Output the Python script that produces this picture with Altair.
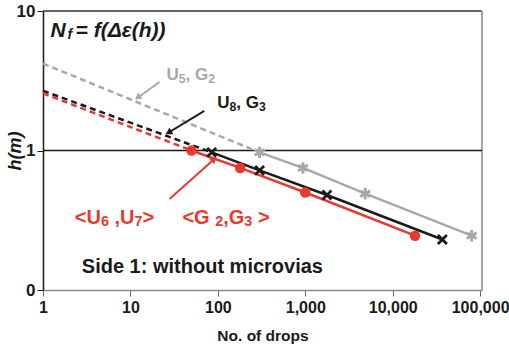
import altair as alt
import pandas as pd

FONT = "Liberation Sans, Arial, sans-serif"
RED = "#e8392f"
BLACK = "#1a1a1a"
GRAY = "#a7a8aa"

# Measured series (No. of drops vs h(m))
red_x = [50, 180, 1000, 18000]
red_y = [1.0, 0.75, 0.5, 0.245]
black_x = [85, 300, 1770, 37000]
black_y = [0.97, 0.72, 0.48, 0.23]
gray_x = [300, 940, 4850, 80000]
gray_y = [0.97, 0.75, 0.49, 0.245]
# dashed extrapolation start values at 1 drop
red_start = 2.57
black_start = 2.68
gray_start = 4.2

x_ticks = [1, 10, 100, 1000, 10000, 100000]
y_ticks = [0.1, 1, 10]

W, H = 439, 279

def sdf(xs, ys):
    return pd.DataFrame({"x": xs, "y": ys})

xs = alt.Scale(type="log", domain=[1, 105000])
ys = alt.Scale(type="log", domain=[0.1, 10])

X = alt.X("x:Q", scale=xs, axis=alt.Axis(values=x_ticks, format=",d", title="No. of drops",
          labelFont=FONT, labelFontSize=16, labelFontWeight="bold", labelColor=BLACK,
          titleFont=FONT, titleFontSize=15.5, titleFontWeight="bold", titleColor=BLACK,
          titlePadding=13, tickColor="#666", domainColor="#888", domainWidth=1.5,
          grid=False, labelPadding=3, labelFlush=False, tickSize=6))
Y = alt.Y("y:Q", scale=ys, axis=alt.Axis(values=y_ticks, title="h(m)",
          labelExpr="datum.value < 0.5 ? '0' : format(datum.value, 'd')",
          labelFont=FONT, labelFontSize=17, labelFontWeight="bold", labelColor=BLACK,
          titleFont=FONT, titleFontSize=18, titleFontWeight="bold", titleFontStyle="italic",
          titleColor=BLACK, titleX=-28, titleY=H / 2, titleBaseline="middle",
          tickColor=BLACK, domainColor=BLACK, tickSize=6, labelPadding=2,
          domainWidth=1.5, grid=False, labelFlush=False))

layers = []
# frame: top (dark) and right (gray)
layers.append(alt.Chart(pd.DataFrame({"a": [0]})).mark_rule(color="#333", strokeWidth=1.5).encode(
    x=alt.value(0), x2=alt.value(W), y=alt.value(0)))
layers.append(alt.Chart(pd.DataFrame({"a": [0]})).mark_rule(color="#888", strokeWidth=1.5).encode(
    x=alt.value(W), y=alt.value(0), y2=alt.value(H)))
# reference line at h=1
layers.append(alt.Chart(pd.DataFrame({"y": [1]})).mark_rule(color=BLACK, strokeWidth=1.5).encode(y=alt.Y("y:Q", scale=ys)))

for xsv, ysv, start, col in [(gray_x, gray_y, gray_start, GRAY), (black_x, black_y, black_start, BLACK), (red_x, red_y, red_start, RED)]:
    d = sdf([1, xsv[0]], [start, ysv[0]])
    layers.append(alt.Chart(d).mark_line(color=col, strokeWidth=2.5, strokeDash=[6, 4]).encode(x=X, y=Y))
    layers.append(alt.Chart(sdf(xsv, ysv)).mark_line(color=col, strokeWidth=2.5).encode(x=X, y=Y))

layers.append(alt.Chart(sdf(gray_x, gray_y)).mark_point(
    shape="M0,-1L0,1M-0.87,-0.5L0.87,0.5M-0.87,0.5L0.87,-0.5", filled=False,
    color=GRAY, strokeWidth=3, size=130, opacity=1).encode(x=X, y=Y))
layers.append(alt.Chart(sdf(black_x, black_y)).mark_point(
    shape="M-1,-1L1,1M-1,1L1,-1", filled=False, color=BLACK, strokeWidth=2.8,
    size=80, opacity=1).encode(x=X, y=Y))
layers.append(alt.Chart(sdf(red_x, red_y)).mark_point(
    shape="circle", filled=True, color=RED, size=110, opacity=1).encode(x=X, y=Y))

# arrows
arrows = [
    (21.5, 3.10, 12.4, 2.42, GRAY, 234),
    (70, 1.92, 28, 1.357, BLACK, 239),
    (28, 0.449, 88.6, 0.855, RED, 48),
]
for x1, y1, x2, y2, col, ang in arrows:
    d = pd.DataFrame({"x": [x1], "y": [y1], "x2": [x2], "y2": [y2]})
    layers.append(alt.Chart(d).mark_rule(color=col, strokeWidth=2).encode(
        x=alt.X("x:Q", scale=xs), y=alt.Y("y:Q", scale=ys), x2="x2:Q", y2="y2:Q"))
    layers.append(alt.Chart(d).mark_point(shape="triangle", filled=True, color=col, size=60,
                                          angle=ang, opacity=1).encode(
        x=alt.X("x2:Q", scale=xs), y=alt.Y("y2:Q", scale=ys)))

def txt(x, y, s, col, size, italic=False, dx=0, dy=0):
    d = pd.DataFrame({"x": [x], "y": [y], "t": [s]})
    kw = dict(align="left", baseline="middle", font=FONT, fontSize=size, fontWeight="bold",
              color=col, dx=dx, dy=dy)
    if italic:
        kw["fontStyle"] = "italic"
    return alt.Chart(d).mark_text(**kw).encode(x=alt.X("x:Q", scale=xs), y=alt.Y("y:Q", scale=ys), text="t:N")

# Arial-bold advance widths (per em) for laying out subscripts
ADV = {"U": 0.722, "G": 0.778, ",": 0.278, " ": 0.278, "<": 0.584, ">": 0.584}
def adv(ch):
    return ADV.get(ch, 0.556)

def rich(x, y, segs, col, size):
    out = []
    off = 0.0
    for s, sub in segs:
        fs = size * 0.72 if sub else size
        lead = len(s) - len(s.lstrip(" "))
        body = s.strip(" ")
        off += lead * adv(" ") * fs
        if body:
            out.append(txt(x, y, body, col, fs, dx=off, dy=size * 0.22 if sub else 0))
        off += sum(adv(c) for c in s[lead:]) * fs
    return out

layers.append(txt(1.22, 7.19, "N", BLACK, 21, True))
layers.append(txt(1.22, 7.19, "f", BLACK, 14, True, dx=17, dy=4))
layers.append(txt(1.22, 7.19, "= f(Δε(h))", BLACK, 21, True, dx=25))
layers += rich(25.8, 3.48, [("U", False), ("5", True), (", G", False), ("2", True)], GRAY, 17)
layers += rich(98.5, 2.19, [("U", False), ("8", True), (", G", False), ("3", True)], BLACK, 17)
layers += rich(2.31, 0.328, [("<U", False), ("6", True), (" ,U", False), ("7", True), (">", False)], RED, 20)
layers += rich(39.3, 0.328, [("<G ", False), ("2", True), (",G", False), ("3", True), (" >", False)], RED, 20)
layers.append(txt(2.78, 0.146, "Side 1: without microvias", BLACK, 20))

chart = alt.layer(*layers).properties(
    width=W, height=H,
    autosize=alt.AutoSizeParams(type="none"),
    padding={"left": 43, "top": 11, "right": 27, "bottom": 58},
    background="white",
).configure_view(stroke=None)

chart.save("out.html", embed_options={"renderer": "svg", "actions": False})
